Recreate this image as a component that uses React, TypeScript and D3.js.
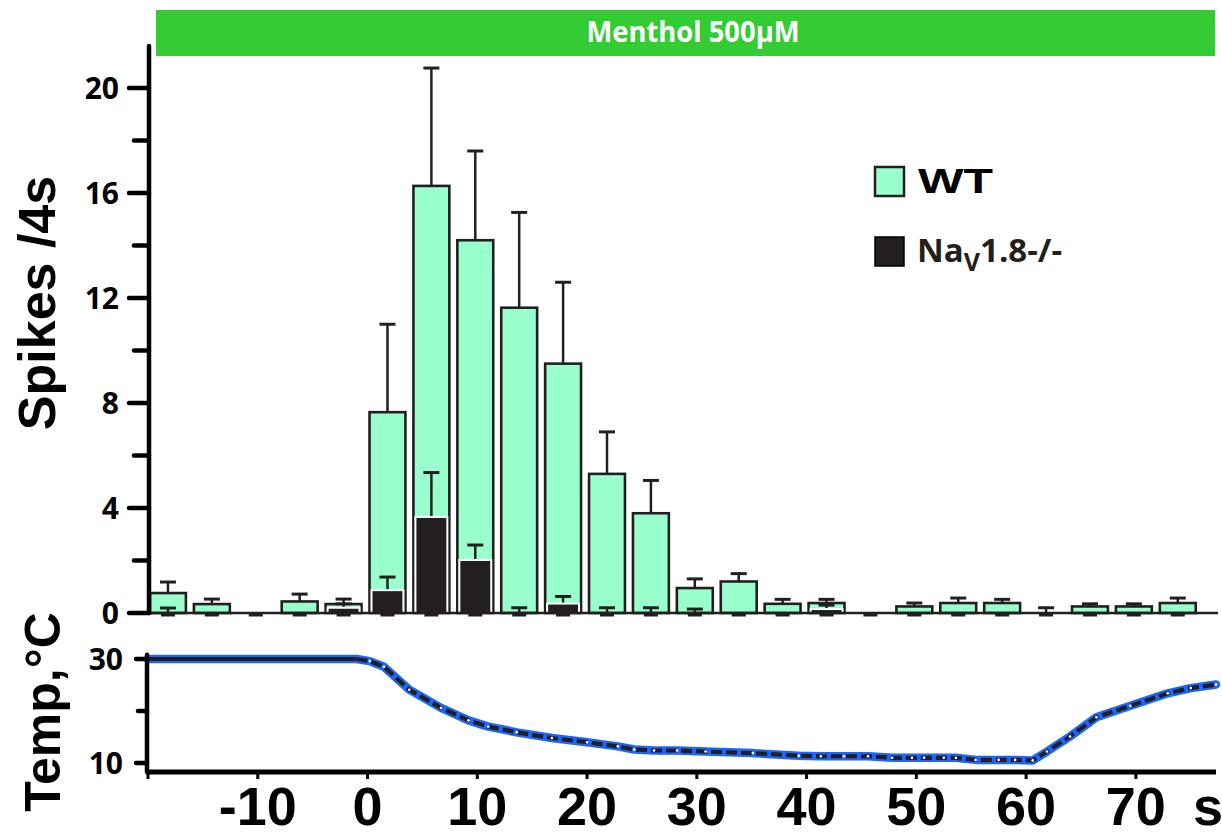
import React from "react";
import * as d3 from "d3";

// 4-s bins, start time of each bin (s, relative to menthol onset)
const binStarts = [-20, -16, -12, -8, -4, 0, 4, 8, 12, 16, 20, 24, 28, 32, 36, 40, 44, 48, 52, 56, 60, 64, 68, 72];

// WT spikes per 4 s: mean and SEM
const wtMean = [0.76, 0.34, 0, 0.44, 0.34, 7.65, 16.27, 14.2, 11.63, 9.5, 5.3, 3.8, 0.95, 1.2, 0.35, 0.38, 0, 0.25, 0.38, 0.38, 0, 0.25, 0.25, 0.38];
const wtSem = [0.42, 0.19, 0, 0.28, 0.19, 3.35, 4.49, 3.4, 3.63, 3.1, 1.6, 1.25, 0.35, 0.3, 0.17, 0.14, 0, 0.13, 0.19, 0.14, 0, 0.1, 0.1, 0.19];

// NaV1.8-/- spikes per 4 s: mean and SEM
const koMean = [0, 0, 0, 0, 0.2, 0.87, 3.66, 2.02, 0, 0.36, 0, 0, 0, 0, 0, 0.15, 0, 0, 0, 0, 0, 0, 0, 0];
const koSem = [0.19, 0, 0, 0, 0.15, 0.5, 1.69, 0.57, 0.2, 0.27, 0.2, 0.2, 0.15, 0, 0, 0.15, 0, 0, 0, 0, 0.2, 0, 0, 0];

// bath temperature trace
const tempTime = [-20, -1, 0.2, 1.5, 3.8, 6.7, 9.2, 11, 13.6, 16.8, 20, 22.8, 24.3, 26.1, 28.2, 30.8, 35.1, 39.3, 41.3, 43.4, 45.6, 47.8, 49.6, 50.7, 52.5, 53.6, 55.4, 57.5, 59, 60.6, 61.9, 64, 66.4, 69.5, 72.9, 75, 77.3];
const tempValue = [30, 30, 29.6, 28.5, 24.1, 20.6, 18.2, 17, 15.9, 14.8, 14, 13.2, 12.6, 12.4, 12.4, 12.2, 11.9, 11.4, 11.3, 11.3, 11.3, 11.0, 11.0, 11.0, 11.0, 11.0, 10.6, 10.6, 10.6, 10.5, 12.2, 15.1, 18.8, 21.0, 23.4, 24.4, 25.1];

const spikeTicks = [0, 4, 8, 12, 16, 20];
const spikeMinorTicks = [2, 6, 10, 14, 18];
const timeTicks = [-20, -10, 0, 10, 20, 30, 40, 50, 60, 70];
const timeLabels = [-10, 0, 10, 20, 30, 40, 50, 60, 70];
const tempTicks = [10, 30];
const tempMinorTicks = [20];

const BIN = 4;
const INK = "#231f20";
const MINT = "#99ffcc";
const BLUE = "#1a66ff";

export default function App() {
  const x = d3.scaleLinear().domain([-20, 77.3]).range([148, 1216]);
  const ySp = d3.scaleLinear().domain([0, 20]).range([613, 88]);
  const yT = d3.scaleLinear().domain([10, 30]).range([763, 659]);

  const binW = x(BIN) - x(0);
  const barW = binW - 8;
  const y0 = ySp(0);

  const pts: [number, number][] = tempTime.map((t, i) => [t, tempValue[i]]);
  const line = d3
    .line<[number, number]>()
    .x((d) => x(d[0]))
    .y((d) => yT(d[1]));
  const fullPath = line(pts) || "";
  const flatPath = line(pts.slice(0, 2)) || "";
  const coolPath = line(pts.slice(1)) || "";

  const tickFont = "'Open Sans', sans-serif";
  const bigFont = "'Liberation Sans', Arial, sans-serif";
  const narrowFont = "'Liberation Sans Narrow', 'Liberation Sans', sans-serif";

  return (
    <svg
      width={1222}
      height={837}
      style={{ position: "absolute", left: 0, top: 0, background: "#fff" }}
    >
      {/* application bar */}
      <rect x={156} y={10} width={1059} height={46} fill="#33cc33" />
      <text
        x={693}
        y={42}
        fill="#fff"
        fontFamily={tickFont}
        fontWeight={700}
        fontSize={28}
        textAnchor="middle"
        textLength={213}
        lengthAdjust="spacingAndGlyphs"
      >
        Menthol 500µM
      </text>

      {/* zero-level caps beneath baseline */}
      {binStarts.map((t, i) => {
        const cx = x(t) + 2 + barW / 2;
        return (
          <line key={"z" + i} x1={cx - 7} x2={cx + 7} y1={y0 + 2} y2={y0 + 2} stroke={INK} strokeWidth={3} />
        );
      })}

      {/* WT bars with SEM */}
      {binStarts.map((t, i) => {
        const bx = x(t) + 2;
        const cx = bx + barW / 2;
        const v = wtMean[i];
        const e = wtSem[i];
        return (
          <g key={"wt" + i}>
            {v > 0 && (
              <rect x={bx} y={ySp(v)} width={barW} height={y0 - ySp(v)} fill={MINT} stroke={INK} strokeWidth={2.6} />
            )}
            {e > 0 && (
              <g stroke={INK}>
                <line x1={cx} x2={cx} y1={ySp(v)} y2={ySp(v + e)} strokeWidth={2.5} />
                <line x1={cx - 8} x2={cx + 8} y1={ySp(v + e)} y2={ySp(v + e)} strokeWidth={3} />
              </g>
            )}
          </g>
        );
      })}

      {/* NaV1.8-/- bars with SEM */}
      {binStarts.map((t, i) => {
        const bx = x(t) + 4;
        const w = barW - 4;
        const cx = bx + w / 2;
        const v = koMean[i];
        const e = koSem[i];
        return (
          <g key={"ko" + i}>
            {v > 0 && (
              <rect x={bx} y={ySp(v)} width={w} height={y0 - ySp(v)} fill={INK} stroke="#fff" strokeWidth={2} />
            )}
            {e > 0 && (
              <g stroke={INK}>
                <line x1={cx} x2={cx} y1={ySp(v) - (v > 0 ? 1 : 0)} y2={ySp(v + e)} strokeWidth={2.5} />
                <line x1={cx - 8} x2={cx + 8} y1={ySp(v + e)} y2={ySp(v + e)} strokeWidth={3} />
              </g>
            )}
          </g>
        );
      })}

      {/* baseline of spike panel */}
      <line x1={149} x2={1218} y1={y0} y2={y0} stroke={INK} strokeWidth={2.5} />

      {/* spike y axis */}
      <g stroke="#000" strokeLinecap="round">
        <line x1={149} x2={149} y1={ySp(21.6)} y2={y0} strokeWidth={4.5} />
        {spikeTicks.map((v) => (
          <line key={"st" + v} x1={129} x2={149} y1={ySp(v)} y2={ySp(v)} strokeWidth={4.5} />
        ))}
        {spikeMinorTicks.map((v) => (
          <line key={"sm" + v} x1={134} x2={149} y1={ySp(v)} y2={ySp(v)} strokeWidth={4.5} />
        ))}
      </g>
      {spikeTicks.map((v) => (
        <text
          key={"sl" + v}
          x={119}
          y={ySp(v)}
          dy="0.36em"
          textAnchor="end"
          fontFamily={tickFont}
          fontWeight={700}
          fontSize={30}
          fill="#000"
        >
          {v}
        </text>
      ))}
      <text
        transform="translate(55,303) rotate(-90)"
        textAnchor="middle"
        fontFamily={bigFont}
        fontWeight={700}
        fontSize={52}
        fill="#000"
      >
        Spikes /4s
      </text>

      {/* legend */}
      <rect x={875} y={167} width={29} height={29} fill={MINT} stroke={INK} strokeWidth={2.5} />
      <text
        x={918}
        y={193}
        fontFamily={bigFont}
        fontWeight={900}
        fontSize={35}
        textLength={75}
        lengthAdjust="spacingAndGlyphs"
        fill="#000"
      >
        WT
      </text>
      <rect x={875} y={237} width={29} height={29} fill={INK} stroke="#000" strokeWidth={1.5} />
      <text x={917} y={262} fontFamily={tickFont} fontWeight={700} fontSize={33} fill={INK}>
        Na
        <tspan fontSize={25} dy={9}>
          V
        </tspan>
        <tspan dy={-9}>1.8-/-</tspan>
      </text>

      {/* temperature trace */}
      <path d={fullPath} fill="none" stroke={BLUE} strokeWidth={8.5} strokeLinejoin="round" strokeLinecap="round" />
      <path d={flatPath} fill="none" stroke={INK} strokeWidth={4} />
      <path d={coolPath} fill="none" stroke={INK} strokeWidth={4.2} strokeDasharray="11 4" />
      {pts.slice(2).map((d, i) => (
        <circle key={"p" + i} cx={x(d[0])} cy={yT(d[1])} r={1.3} fill="#fff" />
      ))}

      {/* temperature y axis */}
      <g stroke="#000" strokeLinecap="round">
        <line x1={147} x2={147} y1={yT(30.8)} y2={772} strokeWidth={4.5} />
        {tempTicks.map((v) => (
          <line key={"tt" + v} x1={136} x2={147} y1={yT(v)} y2={yT(v)} strokeWidth={4.5} />
        ))}
        {tempMinorTicks.map((v) => (
          <line key={"tm" + v} x1={138} x2={147} y1={yT(v)} y2={yT(v)} strokeWidth={4.5} />
        ))}
      </g>
      {tempTicks.map((v) => (
        <text
          key={"tl" + v}
          x={123}
          y={yT(v)}
          dy="0.36em"
          textAnchor="end"
          fontFamily={tickFont}
          fontWeight={700}
          fontSize={30}
          fill="#000"
        >
          {v}
        </text>
      ))}
      <text
        transform="translate(60,712) rotate(-90)"
        textAnchor="middle"
        fontFamily={bigFont}
        fontWeight={700}
        fontSize={50}
        fill="#000"
      >
        Temp,°C
      </text>

      {/* time axis */}
      <g stroke="#000">
        <line x1={146} x2={1216} y1={772} y2={772} strokeWidth={5} />
        {timeTicks.map((t) => (
          <line key={"xt" + t} x1={x(t)} x2={x(t)} y1={772} y2={779} strokeWidth={3} />
        ))}
      </g>
      {timeLabels.map((t) => (
        <text
          key={"xl" + t}
          x={x(t)}
          y={825}
          textAnchor="middle"
          fontFamily={narrowFont}
          fontWeight={700}
          fontSize={54}
          fill="#000"
        >
          {t}
        </text>
      ))}
      <text x={1193} y={825} fontFamily={narrowFont} fontWeight={700} fontSize={54} fill="#000">
        s
      </text>
    </svg>
  );
}
